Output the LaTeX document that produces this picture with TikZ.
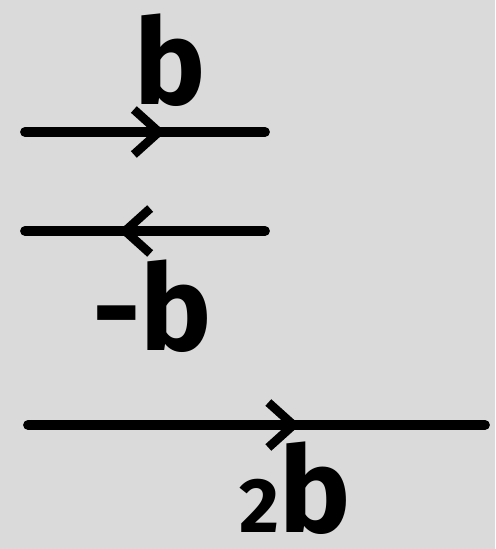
\documentclass[tikz,border=0pt]{standalone}
\usepackage{fontspec}
\setsansfont{Fira Sans}
\usepackage{tikz}
\usetikzlibrary{arrows.meta,decorations.markings}
\definecolor{boardgray}{HTML}{DADADA}
\tikzset{
  vecline/.style={line width=5.6pt, line cap=round, draw=black},
  tipmark/.style={postaction={decorate, decoration={markings,
      mark=at position #1 with {\arrow[line width=5pt]{Straight Barb[length=5mm, width=9mm]}}}}},
  veclabel/.style={font=\sffamily\bfseries\fontsize{68}{70}\selectfont, inner sep=0pt, anchor=base}
}

\begin{document}
\begin{tikzpicture}[x=0.02cm, y=-0.02cm]
  \fill[boardgray] (0,0) rectangle (495,549);
  \useasboundingbox (0,0) rectangle (495,549);

  % b
  \coordinate (b1) at (25,132);
  \coordinate (b2) at (265,132);
  \draw[vecline, tipmark=0.585] (b1) -- (b2);
  \node[veclabel] (lb) at (170,104) {b};

  % -b
  \coordinate (m1) at (25,231);
  \coordinate (m2) at (265,231);
  \draw[vecline, tipmark=0.61] (m2) -- (m1);
  \node[veclabel] (lm) at (152,350) {-b};

  % 2b
  \coordinate (t1) at (28,425);
  \coordinate (t2) at (485,425);
  \draw[vecline, tipmark=0.595] (t1) -- (t2);
  \node[veclabel] (lt) at (295,532) {{\fontsize{44}{46}\selectfont 2}b};
\end{tikzpicture}
\end{document}
